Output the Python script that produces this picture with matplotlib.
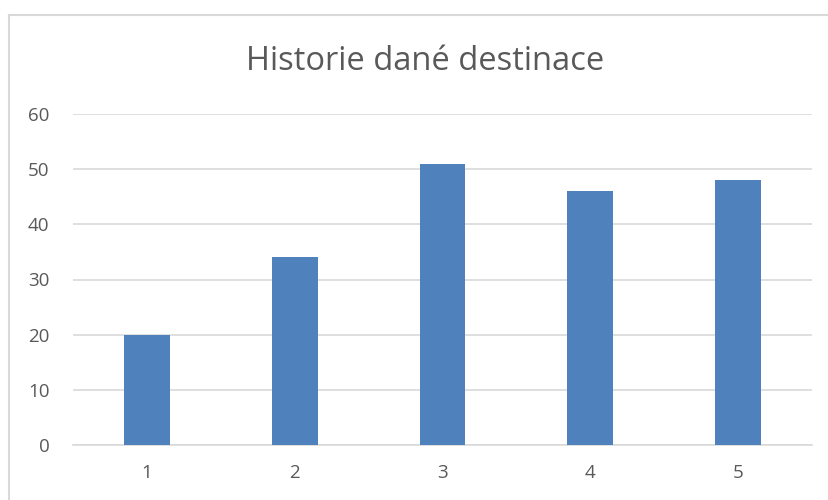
import matplotlib
matplotlib.use("Agg")
import matplotlib.pyplot as plt
from matplotlib.lines import Line2D

# data
categories = ["1", "2", "3", "4", "5"]
values = [20, 34, 51, 46, 48]
yticks = [0, 10, 20, 30, 40, 50, 60]
title = "Historie dané destinace"

plt.rcParams['font.family'] = ['Open Sans', 'DejaVu Sans']
txt = '#595959'
grid = '#d9d9d9'

fig = plt.figure(figsize=(8.29, 5), dpi=100)
ax = fig.add_axes([0.088, 0.11, 0.8915, 0.662])

x = list(range(len(categories)))
ax.bar(x, values, width=0.31, color='#4f81bd', zorder=3)
ax.set_xlim(-0.5, len(categories) - 0.5)
ax.set_ylim(0, 60)
ax.set_yticks(yticks)
ax.set_xticks(x)
ax.set_xticklabels(categories)
ax.grid(axis='y', color=grid, linewidth=1.2, zorder=0)
for s in ['top', 'right', 'left']:
    ax.spines[s].set_visible(False)
ax.spines['bottom'].set_color(grid)
ax.spines['bottom'].set_linewidth(1.2)
ax.tick_params(axis='both', length=0, colors=txt, labelsize=13.5)
ax.tick_params(axis='y', pad=17)
ax.tick_params(axis='x', pad=14)

fig.text(0.513, 0.876, title, ha='center', va='center', fontsize=23.5, color=txt)

# chart border (partially cropped)
fig.add_artist(Line2D([0.011, 0.011], [0, 0.97], color=grid, linewidth=1.5))
fig.add_artist(Line2D([0.011, 1], [0.97, 0.97], color=grid, linewidth=1.5))

fig.savefig('out.png', dpi=100)
